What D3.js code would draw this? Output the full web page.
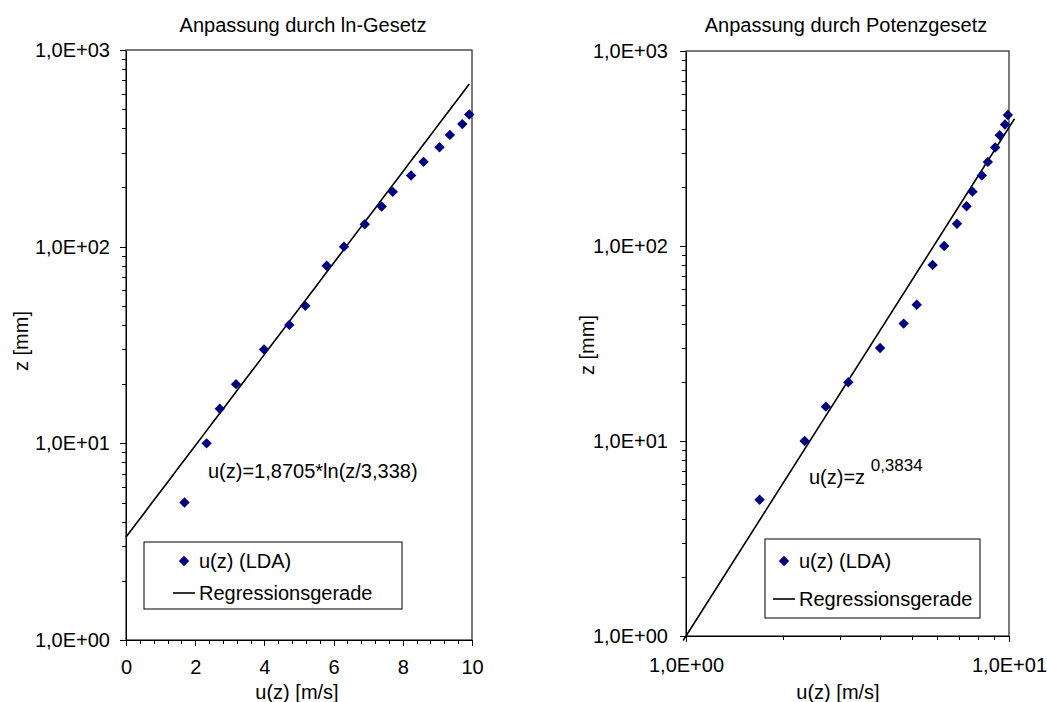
<!DOCTYPE html>
<html>
<head>
<meta charset="utf-8">
<script src="https://cdn.jsdelivr.net/npm/d3@7"></script>
<style>
  body { margin: 0; background: #fff; }
  svg { font-family: "Liberation Sans", Arial, sans-serif; }
  .axis text { font-size: 20px; fill: #000; }
  .axis path, .axis line { stroke: #000; shape-rendering: crispEdges; }
</style>
</head>
<body>
<div id="graphic"></div>
<script>
// measured data, LDA
const zValues = [5, 10, 15, 20, 30, 40, 50, 80, 100, 130, 160, 190, 230, 270, 320, 370, 420, 470];
const uValues = [1.69, 2.33, 2.71, 3.18, 3.99, 4.72, 5.18, 5.80, 6.30, 6.90, 7.39, 7.71, 8.24, 8.60, 9.06, 9.36, 9.72, 9.92];

// fits
const lnA = 1.8705, lnZ0 = 3.338;          // u = a*ln(z/z0)
const powExp = 0.3834;                      // u = z^b
const lnFitRange = [0, 9.92];
const powFitRange = [0.98, 10.4];

// tick labels
const yMajor = [1, 10, 100, 1000];
const xMajorLin = [0, 2, 4, 6, 8, 10];
const xMajorLog = [1, 10];

const titles = ["Anpassung durch ln-Gesetz", "Anpassung durch Potenzgesetz"];
const legendLabels = ["u(z) (LDA)", "Regressionsgerade"];

const W = 1047, H = 702;
const svg = d3.select("#graphic").append("svg")
    .attr("width", W).attr("height", H);

function expFmt(d) {
    var e = Math.round(Math.log10(d));
    return "1,0E+" + (e < 10 ? "0" : "") + e;
}

var logMinor = [];
[1, 10, 100].forEach(function(dec) {
    for (var k = 2; k <= 9; k++) logMinor.push(dec * k);
});

var diamond = d3.symbol().type(d3.symbolSquare).size(54);

// ---------- left panel ----------
var xL = d3.scaleLinear().domain([0, 10]).range([126, 472]);
var yL = d3.scaleLog().domain([1, 1000]).range([640, 50]);

// ---------- right panel ----------
var xR = d3.scaleLog().domain([1, 10]).range([686, 1009]);
var yR = d3.scaleLog().domain([1, 1000]).range([636, 51]);

function panel(cfg) {
    var g = svg.append("g");
    var x = cfg.x, y = cfg.y;
    var x0 = x.range()[0], x1 = x.range()[1];
    var y0 = y.range()[0], y1 = y.range()[1];

    // plot area border
    g.append("rect")
        .attr("x", x0).attr("y", y1)
        .attr("width", x1 - x0).attr("height", y0 - y1)
        .attr("fill", "none")
        .attr("stroke", "#222")
        .attr("stroke-width", 1.2);

    // y axis
    g.append("g").attr("class", "axis")
        .attr("transform", "translate(" + x0 + ",0)")
        .call(d3.axisLeft(y).tickValues(logMinor).tickSize(4).tickSizeOuter(0).tickFormat(""));
    g.append("g").attr("class", "axis")
        .attr("transform", "translate(" + x0 + ",0)")
        .call(d3.axisLeft(y).tickValues(yMajor).tickSize(6).tickSizeOuter(0)
              .tickPadding(cfg.yPad).tickFormat(expFmt));

    // x axis
    g.append("g").attr("class", "axis")
        .attr("transform", "translate(0," + y0 + ")")
        .call(d3.axisBottom(x).tickValues(cfg.xMinor).tickSize(4).tickSizeOuter(0).tickFormat(""));
    g.append("g").attr("class", "axis")
        .attr("transform", "translate(0," + y0 + ")")
        .call(d3.axisBottom(x).tickValues(cfg.xMajor).tickSize(6).tickSizeOuter(0)
              .tickPadding(cfg.xPad).tickFormat(cfg.xFmt));

    // title
    g.append("text")
        .attr("x", cfg.titleX).attr("y", 32)
        .attr("text-anchor", "middle")
        .style("font-size", "20px")
        .text(cfg.title);

    // axis titles
    g.append("text")
        .attr("x", cfg.xTitleX).attr("y", 699)
        .attr("text-anchor", "middle")
        .style("font-size", "20px")
        .text("u(z) [m/s]");
    g.append("text")
        .attr("transform", "translate(" + cfg.yTitleX + "," + cfg.yTitleY + ") rotate(-90)")
        .attr("text-anchor", "middle")
        .attr("dy", "0.35em")
        .style("font-size", "20px")
        .text("z [mm]");

    // regression line
    var line = d3.line()
        .x(function(d) { return x(d[0]); })
        .y(function(d) { return y(d[1]); });
    g.append("path")
        .datum(cfg.fit)
        .attr("d", line)
        .attr("fill", "none")
        .attr("stroke", "#000")
        .attr("stroke-width", 1.6);

    // points
    g.selectAll(".pt")
        .data(uValues.map(function(u, i) { return [u, zValues[i]]; }))
        .enter().append("path")
        .attr("class", "pt")
        .attr("d", diamond)
        .attr("transform", function(d) {
            return "translate(" + x(d[0]) + "," + y(d[1]) + ") rotate(45)";
        })
        .attr("fill", "#000080");

    // legend
    var L = cfg.legend;
    var lg = g.append("g");
    lg.append("rect")
        .attr("x", L.x).attr("y", L.y)
        .attr("width", L.w).attr("height", L.h)
        .attr("fill", "#fff")
        .attr("stroke", "#000")
        .attr("stroke-width", 1);
    lg.append("path")
        .attr("d", diamond)
        .attr("transform", "translate(" + L.symX + "," + L.row1 + ") rotate(45)")
        .attr("fill", "#000080");
    lg.append("line")
        .attr("x1", L.lineX1).attr("x2", L.lineX2)
        .attr("y1", L.row2).attr("y2", L.row2)
        .attr("stroke", "#000").attr("stroke-width", 1.6);
    lg.selectAll(".lt")
        .data(legendLabels)
        .enter().append("text")
        .attr("x", L.textX)
        .attr("y", function(d, i) { return i === 0 ? L.row1 : L.row2; })
        .attr("dy", "0.35em")
        .style("font-size", "20px")
        .text(function(d) { return d; });

    return g;
}

// left: ln law
var lnFit = d3.range(0, 41).map(function(i) {
    var u = lnFitRange[0] + (lnFitRange[1] - lnFitRange[0]) * i / 40;
    return [u, lnZ0 * Math.exp(u / lnA)];
});
var gL = panel({
    x: xL, y: yL,
    xMajor: xMajorLin,
    xMinor: d3.range(0, 26).map(function(i) { return i * 0.4; }).filter(function(v) { return Math.abs(v / 2 - Math.round(v / 2)) > 1e-6; }),
    xFmt: function(d) { return d; },
    xPad: 14, yPad: 10,
    title: titles[0], titleX: 303,
    xTitleX: 297, yTitleX: 21, yTitleY: 341,
    fit: lnFit,
    legend: { x: 144, y: 542, w: 258, h: 67, symX: 184, row1: 561, row2: 593,
              lineX1: 173, lineX2: 195, textX: 199 }
});
gL.append("text")
    .attr("x", 208).attr("y", 478)
    .style("font-size", "20px")
    .text("u(z)=" + "1,8705" + "*ln(z/" + "3,338" + ")");

// right: power law
var powFit = powFitRange.map(function(u) { return [u, Math.pow(u, 1 / powExp)]; });
var gR = panel({
    x: xR, y: yR,
    xMajor: xMajorLog,
    xMinor: [2, 3, 4, 5, 6, 7, 8, 9],
    xFmt: expFmt,
    xPad: 16, yPad: 12,
    title: titles[1], titleX: 846,
    xTitleX: 838, yTitleX: 587, yTitleY: 345,
    fit: powFit,
    legend: { x: 765, y: 539, w: 215, h: 79, symX: 784, row1: 561, row2: 599,
              lineX1: 773, lineX2: 795, textX: 799 }
});
var ann = gR.append("text")
    .attr("x", 809).attr("y", 484)
    .style("font-size", "20px");
ann.append("tspan").text("u(z)=z ");
ann.append("tspan")
    .attr("dy", -13)
    .style("font-size", "17px")
    .text("0,3834");
</script>
</body>
</html>
